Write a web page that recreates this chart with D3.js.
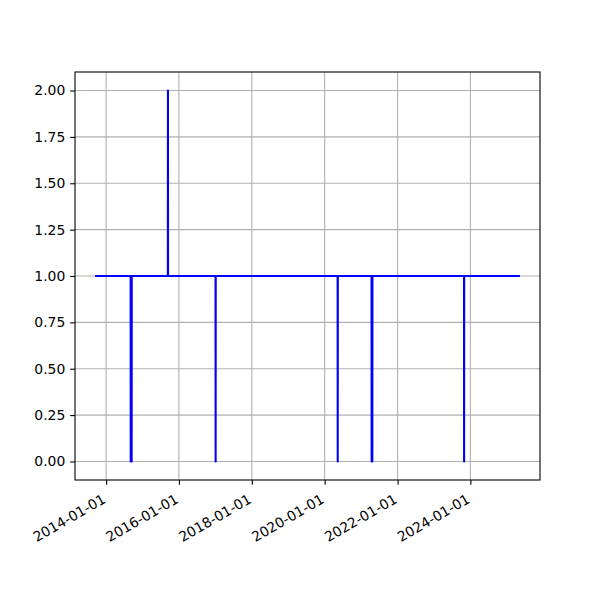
<!DOCTYPE html>
<html><head><meta charset="utf-8">
<script src="https://cdn.jsdelivr.net/npm/d3@7"></script>
<style>
body{margin:0;background:#fff;}
text{font-family:"DejaVu Sans",sans-serif;font-size:13.9px;fill:#000;}
</style></head>
<body><svg id="c" width="600" height="600"></svg>
<script>
// key points of the daily series (value 1 except around the spikes)
const dates = ["2013-09-23",
  "2014-09-04","2014-09-05","2014-09-14","2014-09-15",
  "2015-09-12","2015-09-13","2015-09-14",
  "2017-01-02","2017-01-03","2017-01-04",
  "2020-05-10","2020-05-11","2020-05-12",
  "2021-04-15","2021-04-16","2021-04-23","2021-04-24",
  "2023-10-29","2023-10-30","2023-10-31",
  "2025-05-01"];
const values = [1,
  1,0,0,1,
  1,2,1,
  1,0,1,
  1,0,1,
  1,0,0,1,
  1,0,1,
  1];
const yTicks = [0,0.25,0.5,0.75,1.0,1.25,1.5,1.75,2.0];
const xTickLabels = ["2014-01-01","2016-01-01","2018-01-01","2020-01-01","2022-01-01","2024-01-01"];

const parse = d3.utcParse("%Y-%m-%d");
const data = dates.map((d,i)=>({x:parse(d), y:values[i]}));
const L=75,R=540,T=72,B=480;
const svg=d3.select("#c");
svg.append("rect").attr("width",600).attr("height",600).attr("fill","#fff");
const ext=d3.extent(data,d=>d.x);
const span=ext[1]-ext[0];
const x=d3.scaleUtc().domain([new Date(+ext[0]-span*0.05), new Date(+ext[1]+span*0.05)]).range([L,R]);
const y=d3.scaleLinear().domain([-0.1,2.1]).range([B,T]);
const xt=xTickLabels.map(parse);

const g=svg.append("g");
// grid
g.selectAll(".gx").data(xt).enter().append("line")
 .attr("x1",d=>x(d)).attr("x2",d=>x(d)).attr("y1",T).attr("y2",B)
 .attr("stroke","#b0b0b0").attr("stroke-width",1.1);
g.selectAll(".gy").data(yTicks).enter().append("line")
 .attr("x1",L).attr("x2",R).attr("y1",d=>y(d)).attr("y2",d=>y(d))
 .attr("stroke","#b0b0b0").attr("stroke-width",1.1);

// line
const line=d3.line().x(d=>x(d.x)).y(d=>y(d.y));
svg.append("path").datum(data).attr("d",line).attr("fill","none")
 .attr("stroke","#0000ff").attr("stroke-width",2.08).attr("stroke-linejoin","round").attr("stroke-linecap","square");

// frame
svg.append("rect").attr("x",L).attr("y",T).attr("width",R-L).attr("height",B-T)
 .attr("fill","none").attr("stroke","#000").attr("stroke-width",1.1);

// y axis
const ya=svg.append("g").attr("transform",`translate(${L},0)`)
 .call(d3.axisLeft(y).tickValues(yTicks).tickFormat(d3.format(".2f")).tickSize(4.86).tickPadding(4.86));
ya.attr("font-size",null).attr("font-family",null);
ya.select(".domain").remove();
ya.selectAll("line").attr("stroke","#000").attr("stroke-width",1.1);

// x axis
const xa=svg.append("g").attr("transform",`translate(0,${B})`)
 .call(d3.axisBottom(x).tickValues(xt).tickFormat(d3.utcFormat("%Y-%m-%d")).tickSize(4.86).tickPadding(4.86));
xa.attr("font-size",null).attr("font-family",null);
xa.select(".domain").remove();
xa.selectAll("line").attr("stroke","#000").attr("stroke-width",1.1);
xa.selectAll("text")
 .attr("text-anchor","end").attr("dy",null).attr("y",null)
 .attr("transform","translate(0,22) rotate(-30)");
</script></body></html>
